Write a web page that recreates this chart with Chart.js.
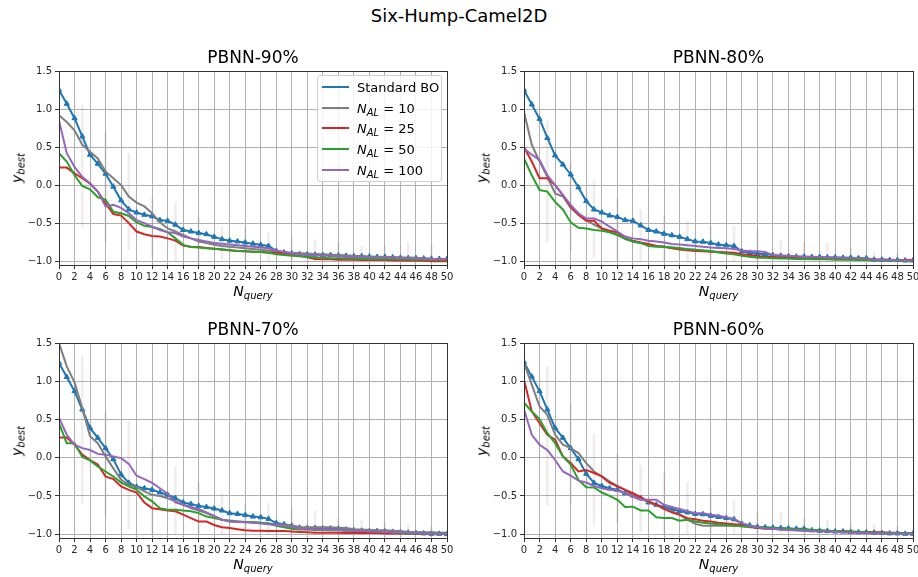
<!DOCTYPE html>
<html>
<head>
<meta charset="utf-8">
<script src="https://cdn.jsdelivr.net/npm/chart.js@4.4.1/dist/chart.umd.min.js"></script>
<style>
  body { margin: 0; width: 918px; height: 577px; position: relative; background: #fff; overflow: hidden;
         font-family: 'DejaVu Sans', sans-serif; color: #000; }
  canvas { position: absolute; }
  .txt { position: absolute; white-space: nowrap; line-height: 1; }
  .suptitle { font-size: 18px; left: 459px; top: 7px; transform: translateX(-50%); }
  .title { font-size: 17px; transform: translateX(-50%); }
  .xlab { font-size: 14px; transform: translateX(-50%); }
  .ylab { font-size: 14px; transform: translate(-50%, -50%) rotate(-90deg); }
  .m { font-style: italic; }
  sub { font-size: 10px; vertical-align: -3px; }
  .legend { position: absolute; border: 1px solid #d0d0d0; border-radius: 3px; background: rgba(255,255,255,0.85);
            font-size: 13px; }
  .legend .row { position: absolute; left: 0; height: 20px; }
  .legend .swatch { position: absolute; left: 4px; top: 9px; width: 27px; height: 2px; }
  .legend .lab { position: absolute; left: 39px; top: 3px; white-space: nowrap; }
</style>
</head>
<body>
<div class="txt suptitle">Six-Hump-Camel2D</div>
<script>
// x = number of queries 0..50, one value per query
const yTicks = [-1.0, -0.5, 0.0, 0.5, 1.0, 1.5];

// PBNN-90%
const bo90 = [1.25, 1.07, 0.88, 0.64, 0.40, 0.28, 0.15, -0.02, -0.20, -0.32,
  -0.36, -0.39, -0.41, -0.46, -0.47, -0.52, -0.59, -0.61, -0.63, -0.645,
  -0.68, -0.71, -0.73, -0.74, -0.755, -0.77, -0.785, -0.80, -0.865, -0.885,
  -0.90, -0.905, -0.91, -0.915, -0.92, -0.92, -0.925, -0.93, -0.935, -0.935,
  -0.94, -0.945, -0.945, -0.95, -0.955, -0.96, -0.96, -0.965, -0.97, -0.97, -0.97];
const al10_90 = [0.92, 0.83, 0.72, 0.53, 0.44, 0.35, 0.18, 0.09, 0.00, -0.15,
  -0.23, -0.28, -0.37, -0.49, -0.57, -0.61, -0.655, -0.70, -0.74, -0.76,
  -0.785, -0.80, -0.81, -0.82, -0.83, -0.84, -0.85, -0.86, -0.87, -0.88,
  -0.89, -0.895, -0.90, -0.905, -0.91, -0.915, -0.92, -0.925, -0.93, -0.935,
  -0.94, -0.94, -0.945, -0.945, -0.95, -0.95, -0.955, -0.96, -0.97, -0.97, -0.97];
const al25_90 = [0.23, 0.23, 0.155, 0.09, 0.02, -0.085, -0.24, -0.38, -0.40, -0.50,
  -0.61, -0.645, -0.67, -0.675, -0.70, -0.73, -0.795, -0.81, -0.815, -0.825,
  -0.835, -0.845, -0.855, -0.865, -0.87, -0.875, -0.88, -0.885, -0.89, -0.90,
  -0.91, -0.93, -0.95, -0.97, -0.975, -0.975, -0.98, -0.98, -0.98, -0.985,
  -0.985, -0.985, -0.985, -0.99, -0.99, -0.995, -0.995, -0.995, -1.0, -1.0, -1.0];
const al50_90 = [0.42, 0.31, 0.13, -0.01, -0.055, -0.16, -0.19, -0.35, -0.37, -0.405,
  -0.49, -0.535, -0.55, -0.575, -0.62, -0.70, -0.785, -0.815, -0.82, -0.83,
  -0.835, -0.845, -0.855, -0.865, -0.87, -0.875, -0.88, -0.89, -0.91, -0.92,
  -0.93, -0.935, -0.94, -0.95, -0.955, -0.96, -0.96, -0.965, -0.965, -0.97,
  -0.97, -0.97, -0.975, -0.975, -0.975, -0.98, -0.98, -0.98, -0.98, -0.98, -0.98];
const al100_90 = [0.85, 0.42, 0.24, 0.11, 0.02, -0.085, -0.28, -0.26, -0.30, -0.37,
  -0.46, -0.50, -0.545, -0.59, -0.62, -0.63, -0.675, -0.70, -0.72, -0.74,
  -0.76, -0.77, -0.78, -0.79, -0.80, -0.81, -0.82, -0.83, -0.86, -0.88,
  -0.90, -0.91, -0.915, -0.92, -0.925, -0.93, -0.935, -0.94, -0.945, -0.945,
  -0.95, -0.95, -0.955, -0.955, -0.96, -0.96, -0.965, -0.965, -0.97, -0.97, -0.97];

// PBNN-80%
const bo80 = [1.25, 1.06, 0.87, 0.62, 0.39, 0.27, 0.14, -0.03, -0.21, -0.32,
  -0.36, -0.40, -0.42, -0.46, -0.47, -0.53, -0.59, -0.61, -0.64, -0.66,
  -0.68, -0.71, -0.74, -0.745, -0.76, -0.78, -0.79, -0.80, -0.87, -0.89,
  -0.90, -0.91, -0.92, -0.93, -0.935, -0.94, -0.94, -0.945, -0.945, -0.95,
  -0.95, -0.955, -0.955, -0.96, -0.96, -0.98, -0.98, -0.985, -0.985, -0.99, -0.99];
const al10_80 = [0.96, 0.53, 0.31, 0.11, -0.11, -0.15, -0.30, -0.39, -0.46, -0.52,
  -0.57, -0.61, -0.655, -0.71, -0.74, -0.76, -0.785, -0.80, -0.81, -0.82,
  -0.83, -0.84, -0.85, -0.86, -0.87, -0.88, -0.89, -0.90, -0.92, -0.94,
  -0.95, -0.95, -0.955, -0.955, -0.96, -0.96, -0.96, -0.965, -0.965, -0.965,
  -0.97, -0.97, -0.975, -0.975, -0.975, -0.98, -0.98, -0.985, -0.985, -0.99, -0.99];
const al25_80 = [0.50, 0.31, 0.09, 0.09, 0.00, -0.13, -0.28, -0.39, -0.47, -0.47,
  -0.57, -0.60, -0.62, -0.70, -0.73, -0.755, -0.775, -0.80, -0.81, -0.83,
  -0.845, -0.855, -0.865, -0.87, -0.875, -0.88, -0.885, -0.89, -0.91, -0.92,
  -0.93, -0.94, -0.945, -0.95, -0.955, -0.96, -0.96, -0.965, -0.965, -0.965,
  -0.97, -0.97, -0.97, -0.975, -0.975, -0.98, -0.98, -0.98, -0.985, -0.985, -0.985];
const al50_80 = [0.35, 0.13, -0.065, -0.085, -0.22, -0.32, -0.49, -0.56, -0.57, -0.59,
  -0.60, -0.62, -0.655, -0.70, -0.74, -0.76, -0.80, -0.81, -0.81, -0.82,
  -0.83, -0.845, -0.85, -0.86, -0.865, -0.885, -0.90, -0.91, -0.93, -0.94,
  -0.95, -0.955, -0.96, -0.965, -0.965, -0.97, -0.97, -0.975, -0.975, -0.975,
  -0.98, -0.98, -0.98, -0.985, -0.985, -0.99, -0.99, -0.995, -0.995, -1.0, -1.0];
const al100_80 = [0.48, 0.40, 0.33, 0.13, 0.00, -0.13, -0.26, -0.37, -0.44, -0.44,
  -0.48, -0.545, -0.61, -0.675, -0.70, -0.71, -0.73, -0.74, -0.755, -0.775,
  -0.78, -0.79, -0.80, -0.81, -0.82, -0.825, -0.83, -0.84, -0.86, -0.87,
  -0.87, -0.88, -0.92, -0.925, -0.93, -0.935, -0.94, -0.94, -0.945, -0.95,
  -0.95, -0.955, -0.955, -0.96, -0.96, -0.98, -0.98, -0.985, -0.985, -0.99, -0.99];

// PBNN-70%
const bo70 = [1.24, 1.055, 0.87, 0.63, 0.39, 0.26, 0.125, -0.02, -0.22, -0.33,
  -0.38, -0.40, -0.42, -0.455, -0.485, -0.53, -0.585, -0.605, -0.63, -0.645,
  -0.665, -0.69, -0.725, -0.735, -0.75, -0.77, -0.78, -0.80, -0.855, -0.87,
  -0.89, -0.915, -0.92, -0.92, -0.925, -0.925, -0.93, -0.94, -0.95, -0.955,
  -0.96, -0.96, -0.965, -0.97, -0.975, -0.98, -0.985, -0.99, -0.995, -0.995, -1.0];
const al10_70 = [1.50, 1.195, 0.985, 0.65, 0.28, 0.19, 0.017, -0.14, -0.29, -0.355,
  -0.385, -0.44, -0.485, -0.50, -0.53, -0.57, -0.615, -0.66, -0.69, -0.725,
  -0.77, -0.81, -0.82, -0.83, -0.84, -0.845, -0.85, -0.86, -0.87, -0.875,
  -0.885, -0.905, -0.91, -0.91, -0.91, -0.91, -0.915, -0.92, -0.935, -0.94,
  -0.945, -0.95, -0.95, -0.955, -0.96, -0.97, -0.97, -0.975, -0.975, -0.98, -0.98];
const al25_70 = [0.265, 0.265, 0.17, 0.04, -0.03, -0.09, -0.245, -0.28, -0.375, -0.42,
  -0.455, -0.585, -0.66, -0.675, -0.69, -0.70, -0.745, -0.79, -0.835, -0.835,
  -0.88, -0.91, -0.92, -0.935, -0.95, -0.955, -0.955, -0.96, -0.96, -0.96,
  -0.965, -0.97, -0.975, -0.98, -0.98, -0.98, -0.98, -0.985, -0.985, -0.985,
  -0.985, -0.985, -0.99, -0.99, -0.99, -0.99, -0.995, -0.995, -0.995, -0.995, -0.995];
const al50_70 = [0.45, 0.19, 0.19, 0.01, -0.035, -0.115, -0.18, -0.245, -0.325, -0.375,
  -0.42, -0.505, -0.57, -0.66, -0.68, -0.68, -0.69, -0.70, -0.725, -0.77,
  -0.79, -0.81, -0.835, -0.84, -0.84, -0.845, -0.85, -0.86, -0.89, -0.91,
  -0.93, -0.94, -0.94, -0.945, -0.945, -0.95, -0.95, -0.955, -0.955, -0.96,
  -0.96, -0.965, -0.97, -0.975, -0.98, -0.99, -0.99, -0.99, -0.99, -0.99, -0.99];
const al100_70 = [0.52, 0.30, 0.17, 0.125, 0.10, 0.05, 0.04, 0.017, -0.005, -0.08,
  -0.235, -0.28, -0.33, -0.40, -0.47, -0.585, -0.615, -0.645, -0.67, -0.715,
  -0.76, -0.81, -0.835, -0.84, -0.845, -0.85, -0.86, -0.87, -0.88, -0.89,
  -0.90, -0.93, -0.935, -0.935, -0.94, -0.94, -0.945, -0.95, -0.955, -0.96,
  -0.965, -0.965, -0.97, -0.975, -0.975, -0.98, -0.985, -0.99, -0.995, -0.995, -0.995];

// PBNN-60%
const bo60 = [1.25, 1.06, 0.87, 0.63, 0.39, 0.26, 0.125, -0.02, -0.21, -0.33,
  -0.37, -0.40, -0.42, -0.465, -0.495, -0.53, -0.585, -0.615, -0.645, -0.67,
  -0.70, -0.715, -0.735, -0.74, -0.76, -0.775, -0.79, -0.805, -0.865, -0.885,
  -0.905, -0.91, -0.915, -0.92, -0.925, -0.93, -0.93, -0.95, -0.955, -0.96,
  -0.965, -0.965, -0.97, -0.975, -0.975, -0.98, -0.985, -0.99, -0.99, -0.995, -0.995];
const al10_60 = [1.24, 0.955, 0.67, 0.56, 0.30, 0.17, 0.125, 0.06, -0.07, -0.18,
  -0.245, -0.31, -0.37, -0.42, -0.485, -0.53, -0.585, -0.615, -0.67, -0.70,
  -0.745, -0.81, -0.865, -0.89, -0.89, -0.89, -0.89, -0.89, -0.895, -0.91,
  -0.915, -0.925, -0.93, -0.94, -0.945, -0.95, -0.955, -0.955, -0.96, -0.96,
  -0.965, -0.97, -0.975, -0.975, -0.98, -0.985, -0.985, -0.99, -0.99, -0.995, -0.995];
const al25_60 = [1.02, 0.605, 0.45, 0.30, 0.235, 0.017, -0.07, -0.18, -0.16, -0.20,
  -0.245, -0.33, -0.375, -0.42, -0.465, -0.515, -0.57, -0.615, -0.67, -0.715,
  -0.745, -0.79, -0.805, -0.825, -0.835, -0.85, -0.86, -0.87, -0.88, -0.90,
  -0.92, -0.925, -0.93, -0.935, -0.94, -0.945, -0.95, -0.955, -0.955, -0.96,
  -0.96, -0.965, -0.965, -0.97, -0.97, -0.975, -0.975, -0.98, -0.98, -0.985, -0.985];
const al50_60 = [0.72, 0.605, 0.505, 0.32, 0.19, 0.017, -0.09, -0.29, -0.385, -0.39,
  -0.455, -0.50, -0.55, -0.645, -0.64, -0.69, -0.69, -0.78, -0.79, -0.79,
  -0.825, -0.81, -0.835, -0.85, -0.86, -0.87, -0.88, -0.89, -0.895, -0.90,
  -0.91, -0.915, -0.92, -0.925, -0.93, -0.935, -0.94, -0.945, -0.95, -0.955,
  -0.96, -0.965, -0.965, -0.97, -0.975, -0.98, -0.98, -0.985, -0.985, -0.985, -0.985];
const al100_60 = [0.63, 0.30, 0.17, 0.10, -0.03, -0.18, -0.235, -0.30, -0.325, -0.37,
  -0.40, -0.42, -0.43, -0.465, -0.51, -0.55, -0.55, -0.55, -0.615, -0.645,
  -0.67, -0.70, -0.725, -0.725, -0.745, -0.76, -0.78, -0.80, -0.855, -0.89,
  -0.91, -0.925, -0.93, -0.94, -0.945, -0.95, -0.955, -0.96, -0.965, -0.965,
  -0.97, -0.975, -0.98, -0.98, -0.985, -0.99, -0.99, -0.995, -0.995, -0.995, -0.995];

// faint spread bars, every third query
const errX = [3, 6, 9, 12, 15, 18, 21, 24, 27, 30, 33, 36, 39, 42, 45, 48];
const errLo90 = [-0.55, -0.75, -0.85, -0.95, -1.0, -1.05, -0.98, -1.0, -1.0, -1.0, -1.0, -1.0, -1.0, -1.0, -1.0, -1.0];
const errHi90 = [1.05, 0.70, 0.42, -0.17, -0.23, -0.42, -0.55, -0.55, -0.62, -0.70, -0.72, -0.75, -0.80, -0.80, -0.76, -0.80];
const errLo80 = [-0.75, -0.85, -0.95, -1.0, -1.0, -1.0, -1.0, -1.0, -1.0, -1.0, -1.0, -1.0, -1.0, -1.0, -1.0, -1.0];
const errHi80 = [0.85, 0.30, 0.05, -0.18, -0.32, -0.40, -0.47, -0.55, -0.55, -0.57, -0.73, -0.75, -0.76, -0.82, -0.88, -0.90];
const errLo70 = [-0.60, -0.75, -0.93, -1.0, -1.0, -1.0, -1.0, -1.0, -1.0, -1.0, -1.0, -1.0, -1.0, -1.0, -1.0, -1.0];
const errHi70 = [1.33, 0.60, 0.48, 0.10, -0.12, -0.32, -0.47, -0.60, -0.60, -0.67, -0.70, -0.80, -0.82, -0.85, -0.88, -0.90];
const errLo60 = [-0.62, -0.60, -0.88, -0.85, -0.97, -1.0, -1.0, -1.0, -1.0, -1.0, -1.0, -1.0, -1.0, -1.0, -1.0, -1.0];
const errHi60 = [1.20, 0.70, 0.30, 0.05, -0.10, -0.20, -0.33, -0.40, -0.55, -0.72, -0.72, -0.80, -0.82, -0.85, -0.88, -0.90];

const seriesLabels = ['Standard BO', '10', '25', '50', '100'];
const seriesColors = ['#1f77b4', '#7f7f7f', '#d62728', '#2ca02c', '#9467bd'];

const panels = [
  { title: 'PBNN-90%', box: { l: 59, t: 71, r: 447, b: 265 },
    series: [bo90, al10_90, al25_90, al50_90, al100_90], errLo: errLo90, errHi: errHi90, legend: true },
  { title: 'PBNN-80%', box: { l: 524, t: 71, r: 913, b: 265 },
    series: [bo80, al10_80, al25_80, al50_80, al100_80], errLo: errLo80, errHi: errHi80 },
  { title: 'PBNN-70%', box: { l: 59, t: 343, r: 447, b: 538 },
    series: [bo70, al10_70, al25_70, al50_70, al100_70], errLo: errLo70, errHi: errHi70 },
  { title: 'PBNN-60%', box: { l: 524, t: 343, r: 913, b: 538 },
    series: [bo60, al10_60, al25_60, al50_60, al100_60], errLo: errLo60, errHi: errHi60 }
];

const Y_AXIS_W = 59;
const X_AXIS_H = 26;
const PAD_TOP = 10;

const frame = {
  id: 'frame',
  afterDraw(chart) {
    const a = chart.chartArea;
    const ctx = chart.ctx;
    ctx.save();
    ctx.strokeStyle = '#333';
    ctx.lineWidth = 1;
    ctx.strokeRect(Math.round(a.left) + 0.5, Math.round(a.top) + 0.5,
      Math.round(a.right - a.left), Math.round(a.bottom - a.top));
    ctx.restore();
  }
};

function addText(cls, html, left, top) {
  const d = document.createElement('div');
  d.className = 'txt ' + cls;
  d.innerHTML = html;
  d.style.left = left + 'px';
  d.style.top = top + 'px';
  document.body.appendChild(d);
  return d;
}

function addLegend(box) {
  const lg = document.createElement('div');
  lg.className = 'legend';
  lg.style.left = (box.l + 258) + 'px';
  lg.style.top = (box.t + 4) + 'px';
  lg.style.width = '123px';
  lg.style.height = '105px';
  seriesLabels.forEach((name, i) => {
    const row = document.createElement('div');
    row.className = 'row';
    row.style.top = (1 + i * 20.7) + 'px';
    const text = i === 0 ? name : '<span class="m">N<sub>AL</sub></span> = ' + name;
    row.innerHTML = '<div class="swatch" style="background:' + seriesColors[i] + '"></div>' +
      '<div class="lab">' + text + '</div>';
    lg.appendChild(row);
  });
  document.body.appendChild(lg);
}

const tickFont = { family: 'DejaVu Sans', size: 10 };

panels.forEach((p) => {
  const b = p.box;
  const padR = Math.min(12, 918 - b.r);
  const canvas = document.createElement('canvas');
  const w = b.r - b.l + Y_AXIS_W + padR;
  const h = b.b - b.t + PAD_TOP + X_AXIS_H;
  canvas.width = w;
  canvas.height = h;
  canvas.style.width = w + 'px';
  canvas.style.height = h + 'px';
  canvas.style.left = (b.l - Y_AXIS_W) + 'px';
  canvas.style.top = (b.t - PAD_TOP) + 'px';
  document.body.appendChild(canvas);

  const datasets = [{
    type: 'bar',
    data: errX.map((x, i) => ({ x, y: [p.errLo[i], p.errHi[i]] })),
    backgroundColor: 'rgba(150, 110, 110, 0.12)',
    borderWidth: 0,
    barThickness: 2,
    order: 10
  }];
  p.series.forEach((vals, i) => {
    datasets.push({
      type: 'line',
      data: vals.map((v, q) => ({ x: q, y: v })),
      borderColor: seriesColors[i],
      backgroundColor: seriesColors[i],
      borderWidth: 2,
      pointRadius: i === 0 ? 3 : 0,
      pointStyle: 'triangle',
      pointBorderWidth: 1,
      pointBorderColor: seriesColors[i],
      tension: 0,
      order: 5 - i
    });
  });

  new Chart(canvas.getContext('2d'), {
    data: { datasets },
    plugins: [frame],
    options: {
      responsive: false,
      animation: false,
      events: [],
      layout: { padding: { top: PAD_TOP, right: padR, left: 0, bottom: 0 } },
      plugins: { legend: { display: false }, tooltip: { enabled: false } },
      scales: {
        x: {
          type: 'linear', min: 0, max: 50, offset: false,
          ticks: { stepSize: 2, autoSkip: false, maxRotation: 0, font: tickFont, color: '#262626', padding: 2 },
          grid: { color: '#b0b0b0', lineWidth: 1, tickLength: 4, tickColor: '#333', offset: false },
          border: { color: '#333', width: 1 },
          afterFit(s) { s.height = X_AXIS_H; s.paddingLeft = 0; s.paddingRight = 0; }
        },
        y: {
          type: 'linear', min: -1.05, max: 1.5,
          afterBuildTicks(s) { s.ticks = yTicks.map(v => ({ value: v })); },
          ticks: { font: tickFont, color: '#262626', padding: 3,
            callback: v => v.toFixed(1).replace('-', '\u2212') },
          grid: { color: '#b0b0b0', lineWidth: 1, tickLength: 4, tickColor: '#333' },
          border: { color: '#333', width: 1 },
          afterFit(s) { s.width = Y_AXIS_W; s.paddingTop = 0; s.paddingBottom = 0; }
        }
      }
    }
  });

  const cx = (b.l + b.r) / 2;
  addText('title', p.title, cx, b.t - 22);
  addText('xlab', '<span class="m">N<sub>query</sub></span>', cx, b.b + 19);
  addText('ylab', '<span class="m">y<sub>best</sub></span>', b.l - 41, (b.t + b.b) / 2);
  if (p.legend) addLegend(b);
});
</script>
</body>
</html>
